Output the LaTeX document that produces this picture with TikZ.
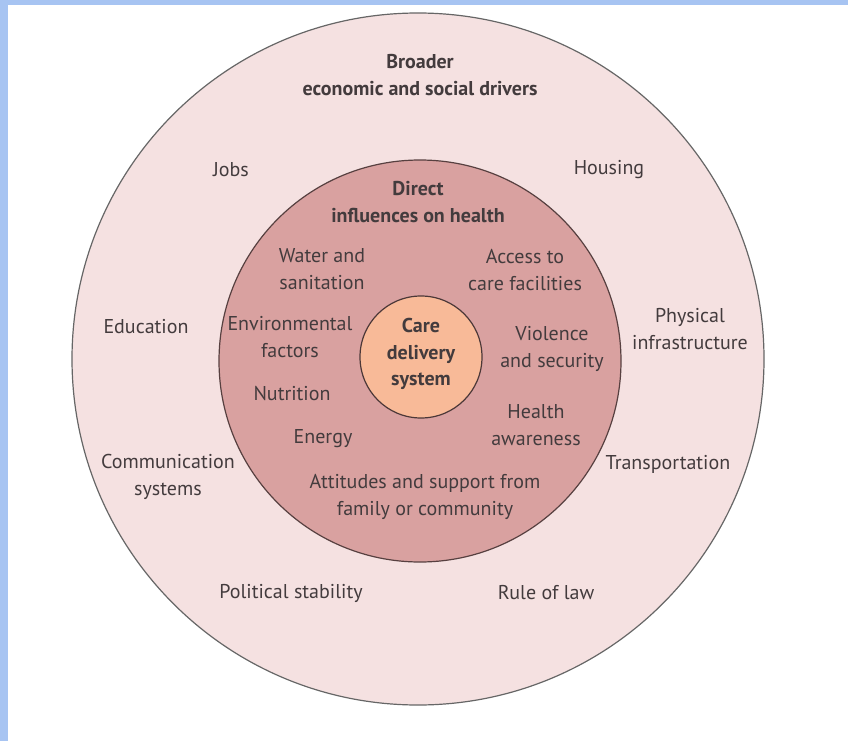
\documentclass[tikz,border=0pt]{standalone}
\usepackage{fontspec}
\setmainfont{PT Sans}
\definecolor{frameblue}{HTML}{A7C4F2}
\definecolor{outerpink}{HTML}{F5E1E1}
\definecolor{innerrose}{HTML}{D9A1A0}
\definecolor{corepeach}{HTML}{F8BA98}
\definecolor{txtgray}{HTML}{433B3D}
\begin{document}
\begin{tikzpicture}[x=1pt,y=-1pt,
  lbl/.style={align=center,text=txtgray,font=\fontsize{20}{26.5}\selectfont,inner sep=0pt},
  hdr/.style={lbl,font=\fontsize{20}{26.5}\selectfont\bfseries}]
\useasboundingbox (0,0) rectangle (848,741);
\fill[frameblue] (0,0) rectangle (8,741);
\fill[frameblue] (0,0) rectangle (848,5);
\draw[fill=outerpink, draw=black!60, line width=1.2pt] (418,359) circle [radius=346];
\draw[fill=innerrose, draw=innerrose!40!black, line width=1.2pt] (420,361) circle [radius=201];
\draw[fill=corepeach, draw=innerrose!35!black, line width=1.2pt] (421,357) circle [radius=61];

\node[hdr] (broad) at (420,75) {Broader\\economic and social drivers};
\node[lbl] (jobs) at (231,170) {Jobs};
\node[lbl] (housing) at (609,170) {Housing};
\node[lbl] (educ) at (146,327) {Education};
\node[lbl] (phys) at (690,329) {Physical\\infrastructure};
\node[lbl] (comm) at (168,477) {Communication\\systems};
\node[lbl] (transp) at (668,464) {Transportation};
\node[lbl] (polit) at (291,593) {Political stability};
\node[lbl] (law) at (546,593) {Rule of law};

\node[hdr] (direct) at (418,202) {Direct\\influences on health};
\node[lbl] (water) at (322,269) {Water and\\sanitation};
\node[lbl] (access) at (525,270) {Access to\\care facilities};
\node[lbl] (env) at (290,337) {Environmental\\factors};
\node[lbl] (viol) at (552,349) {Violence\\and security};
\node[lbl] (nutr) at (292,394) {Nutrition};
\node[lbl] (aware) at (536,425) {Health\\awareness};
\node[lbl] (energy) at (323,439) {Energy};
\node[lbl] (attit) at (425,497) {Attitudes and support from\\family or community};

\node[hdr] (care) at (421,354) {Care\\delivery\\system};
\end{tikzpicture}
\end{document}
